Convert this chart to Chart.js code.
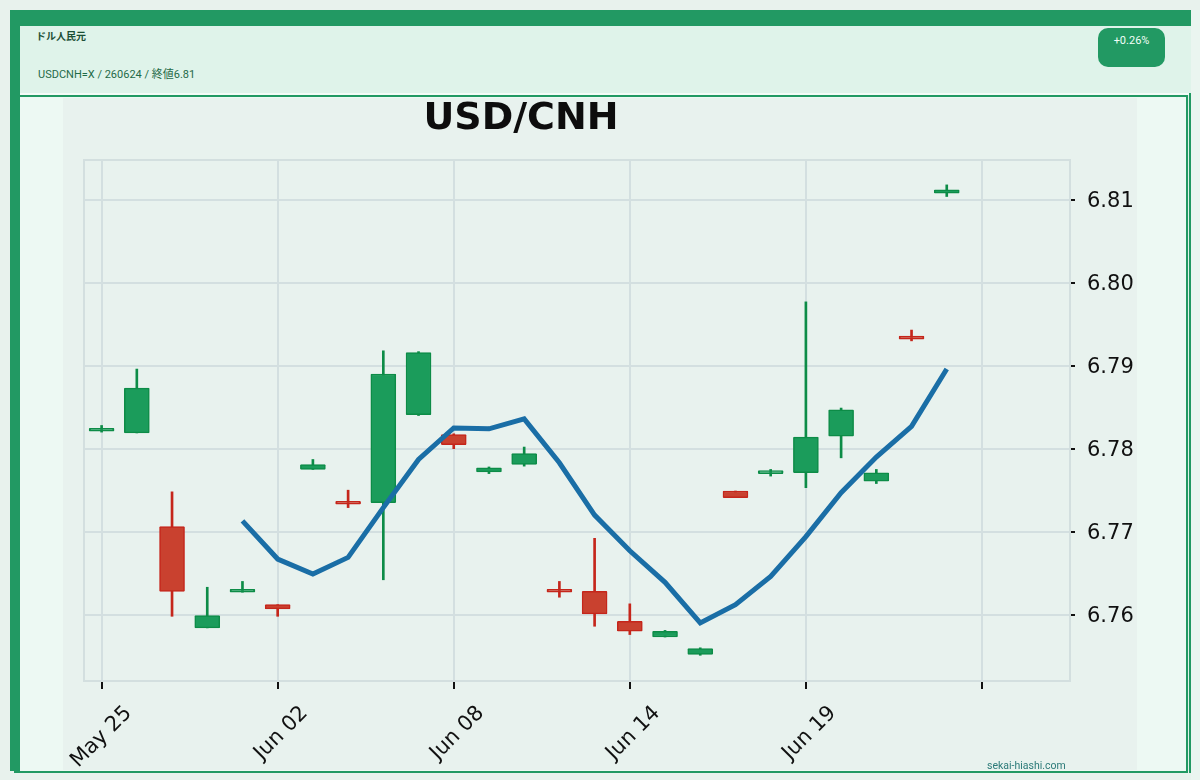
<!DOCTYPE html>
<html>
<head>
<meta charset="utf-8">
<script src="https://cdn.jsdelivr.net/npm/chart.js@4.4.1/dist/chart.umd.min.js"></script>
<style>
  html, body { margin: 0; padding: 0; }
  body { width: 1200px; height: 780px; overflow: hidden; background: #e8f2ed; position: relative; font-family: Roboto, "Noto Sans CJK JP", sans-serif; }
  #frame { position: absolute; left: 10px; top: 10px; width: 1181px; height: 761px; box-sizing: border-box;
           background: #dff3ea; border-top: 16px solid #229963; border-left: 10px solid #229963; }
  #htitle { position: absolute; left: 36px; top: 28px; font-size: 10px; color: #1c4f36; font-weight: bold; }
  #hsub { position: absolute; left: 38px; top: 65px; font-size: 11px; color: #1f6a48; }
  #badge { position: absolute; left: 1098px; top: 28px; width: 67px; height: 39px; border-radius: 10px; background: #229963;
           color: #f2fff8; font-size: 11px; text-align: center; box-sizing: border-box; padding-top: 6px; }
  #wline { position: absolute; left: 20px; top: 93px; width: 1171px; height: 2px; background: #f4fbf7; }
  #rline { position: absolute; left: 1189px; top: 93px; width: 2px; height: 680px; background: #229963; }
  #rstrip { position: absolute; left: 1191px; top: 10px; width: 9px; height: 770px; background: #eaf5f0; }
  #panel { position: absolute; left: 20px; top: 95px; width: 1168px; height: 678px; box-sizing: border-box;
           background: #edf9f3; border-top: 2px solid #229963; border-right: 2px solid #229963; border-bottom: 2px solid #229963; }
  #bline { position: absolute; left: 14px; top: 771px; width: 10px; height: 2px; background: #229963; }
  #chart { position: absolute; left: 63px; top: 98px; background: #e8f2ee; }
  #ctitle { position: absolute; left: 321px; width: 400px; top: 94px; text-align: center; font-family: "DejaVu Sans", sans-serif;
            font-weight: bold; font-size: 38px; color: #0d0d0d; }
  #wm { position: absolute; left: 987px; top: 759px; font-size: 10.5px; color: #2b7a78; font-family: Roboto, sans-serif; }
</style>
</head>
<body>
<div id="rstrip"></div>
<div id="frame"></div>
<div id="htitle">ドル人民元</div>
<div id="hsub">USDCNH=X / 260624 / 終値6.81</div>
<div id="badge">+0.26%</div>
<div id="wline"></div>
<div id="rline"></div>
<div id="panel"></div>
<div id="bline"></div>
<canvas id="chart" width="1074" height="672"></canvas>
<div id="ctitle">USD/CNH</div>
<div id="wm">sekai-hiashi.com</div>
<script>
const dates  = ['May 25','May 26','May 27','May 28','May 29','Jun 02','Jun 03','Jun 04','Jun 05','Jun 06','Jun 08','Jun 09','Jun 10','Jun 11','Jun 12','Jun 14','Jun 15','Jun 16','Jun 17','Jun 18','Jun 19','Jun 20','Jun 22','Jun 23','Jun 24'];
const opens  = [6.7821, 6.7819, 6.7706, 6.7584, 6.7627, 6.7612, 6.7775, 6.7735, 6.7735, 6.7841, 6.7817, 6.7772, 6.7781, 6.7628, 6.7628, 6.7592, 6.7573, 6.7552, 6.7749, 6.7770, 6.7771, 6.7815, 6.7761, 6.7934, 6.8108];
const highs  = [6.7828, 6.7896, 6.7748, 6.7633, 6.7640, 6.7612, 6.7787, 6.7750, 6.7918, 6.7917, 6.7818, 6.7778, 6.7802, 6.7640, 6.7692, 6.7613, 6.7581, 6.7560, 6.7749, 6.7775, 6.7977, 6.7849, 6.7775, 6.7943, 6.8118];
const lows   = [6.7820, 6.7819, 6.7598, 6.7584, 6.7627, 6.7598, 6.7775, 6.7729, 6.7642, 6.7840, 6.7800, 6.7770, 6.7779, 6.7621, 6.7586, 6.7576, 6.7573, 6.7551, 6.7741, 6.7767, 6.7753, 6.7789, 6.7758, 6.7930, 6.8104];
const closes = [6.7824, 6.7873, 6.7628, 6.7599, 6.7628, 6.7607, 6.7781, 6.7733, 6.7890, 6.7916, 6.7805, 6.7777, 6.7794, 6.7627, 6.7601, 6.7580, 6.7580, 6.7559, 6.7741, 6.7772, 6.7814, 6.7847, 6.7771, 6.7932, 6.8112];
const ma5    = [null, null, null, null, 6.7713, 6.7667, 6.7649, 6.7669, 6.7729, 6.7787, 6.7825, 6.7824, 6.7836, 6.7783, 6.7720, 6.7677, 6.7639, 6.7590, 6.7612, 6.7646, 6.7694, 6.7747, 6.7790, 6.7827, 6.7896];
const yTickValues = [6.76, 6.77, 6.78, 6.79, 6.80, 6.81];

const UP_FILL = '#1b9c5b', UP_EDGE = '#0d8c47';
const DN_FILL = '#c9412f', DN_EDGE = '#c5261b';
const isUp = dates.map((d, i) => closes[i] >= opens[i]);

const frameBorder = {
  id: 'frameBorder',
  beforeDatasetsDraw(chart) {
    const a = chart.chartArea, ctx = chart.ctx;
    ctx.save();
    ctx.strokeStyle = '#d3dfdf';
    ctx.lineWidth = 2;
    ctx.strokeRect(a.left, a.top, a.right - a.left, a.bottom - a.top);
    ctx.restore();
  }
};

new Chart(document.getElementById('chart'), {
  type: 'bar',
  data: {
    datasets: [
      {
        type: 'line',
        data: ma5.map((v, i) => ({ x: i, y: v })).filter(p => p.y !== null),
        borderColor: '#1a6ea6',
        borderWidth: 5,
        pointRadius: 0,
        tension: 0,
        order: 0,
        borderCapStyle: 'butt',
        borderJoinStyle: 'miter'
      },
      {
        type: 'bar',
        data: dates.map((d, i) => ({ x: i, y: [opens[i], closes[i]] })),
        backgroundColor: isUp.map(u => u ? UP_FILL : DN_FILL),
        borderColor: isUp.map(u => u ? UP_EDGE : DN_EDGE),
        borderWidth: 1.5,
        borderSkipped: false,
        borderRadius: 1,
        barThickness: 25,
        minBarLength: 3,
        grouped: false,
        order: 1
      },
      {
        type: 'bar',
        data: dates.map((d, i) => ({ x: i, y: [lows[i], highs[i]] })),
        backgroundColor: isUp.map(u => u ? UP_EDGE : DN_EDGE),
        borderWidth: 0,
        barThickness: 2,
        minBarLength: 1,
        grouped: false,
        order: 2
      }
    ]
  },
  options: {
    responsive: false,
    maintainAspectRatio: false,
    animation: false,
    layout: { padding: { left: 21, top: 62, right: 0, bottom: 0 } },
    plugins: { legend: { display: false }, tooltip: { enabled: false }, title: { display: false } },
    scales: {
      x: {
        type: 'linear',
        min: -0.5,
        max: 27.5,
        offset: false,
        afterFit(s) { s.height = 89; s.paddingLeft = 0; s.paddingRight = 0; },
        grid: { offset: false, color: '#d3dfe0', lineWidth: 2, tickColor: '#111', tickLength: 8, tickWidth: 2 },
        border: { display: false },
        ticks: {
          stepSize: 5,
          includeBounds: false,
          autoSkip: false,
          maxRotation: 45,
          minRotation: 45,
          labelOffset: 27,
          padding: 12,
          color: '#111',
          font: { family: 'DejaVu Sans', size: 21 },
          callback: (v) => (Number.isInteger(v) && v >= 0 && v < dates.length) ? dates[v] : ''
        }
      },
      y: {
        type: 'linear',
        position: 'right',
        min: 6.752,
        max: 6.8148,
        afterFit(s) { s.width = 67; },
        afterBuildTicks(s) { s.ticks = yTickValues.map(v => ({ value: v })); },
        grid: { color: '#d3dfe0', lineWidth: 2, tickColor: '#111', tickLength: 5, tickWidth: 2 },
        border: { display: false },
        ticks: {
          padding: 12,
          labelOffset: 2,
          color: '#111',
          font: { family: 'DejaVu Sans', size: 21 },
          callback: (v) => v.toFixed(2)
        }
      }
    }
  },
  plugins: [frameBorder]
});
</script>
</body>
</html>
